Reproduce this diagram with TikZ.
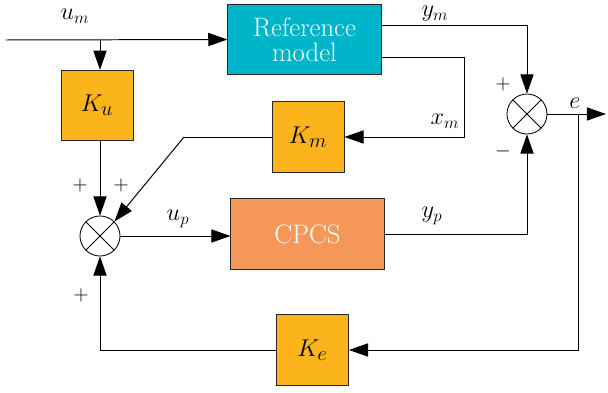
\documentclass[tikz,border=0pt]{standalone}
\usepackage{amsmath}
\usepackage{tikz}
\usetikzlibrary{arrows.meta, positioning}

\definecolor{refcyan}{RGB}{0,181,201}
\definecolor{gainorange}{RGB}{251,180,28}
\definecolor{plantorange}{RGB}{245,151,88}

\tikzset{
    gain/.style={draw=black!85, line width=0.6pt, fill=gainorange, minimum width=1.8cm, minimum height=1.76cm, inner sep=0pt, font=\fontsize{19}{21}\selectfont},
    bigbox/.style={gain, minimum width=3.83cm, text=white, align=center},
    summer/.style={draw, circle, line width=0.6pt, minimum size=1cm, inner sep=0pt,
        path picture={\draw (path picture bounding box.north west) -- (path picture bounding box.south east)
                            (path picture bounding box.north east) -- (path picture bounding box.south west);}},
    sig/.style={line width=0.7pt, -{Triangle[length=4.8mm, width=3.3mm]}},
    wire/.style={line width=0.7pt},
    lbl/.style={inner sep=0pt, font=\fontsize{18}{20}\selectfont}
}

\begin{document}
\begin{tikzpicture}[x=0.025cm, y=-0.025cm]
\useasboundingbox (0,0) rectangle (608,393);

\node[bigbox, fill=refcyan] (ref) at (304.5,39.5) {Reference\\[-3pt]model};
\node[bigbox, fill=plantorange] (cpcs) at (307.5,234) {CPCS};
\node[gain] (Ku) at (97,105.5) {$K_u$};
\node[gain] (Km) at (308,137) {$K_m$};
\node[gain] (Ke) at (312.5,350) {$K_e$};
\node[summer] (s1) at (100,236) {};
\node[summer] (s2) at (527,114) {};

\coordinate (in) at (6,40);
\coordinate (tap) at (100,40);
\coordinate (xmc) at (464,137);
\coordinate (kmb) at (184,137);
\coordinate (etap) at (578,114);
\coordinate (eout) at (606,114);
\coordinate (ketap) at (578,350);

\draw[sig] (in) -- (ref.west);
\draw[sig] (tap) -- (tap |- Ku.north);
\draw[sig] ([yshift=0.36cm]ref.east) -| (s2.north);
\draw[sig] ([yshift=-0.44cm]ref.east) -| (xmc) -- (Km.east);
\draw[wire] (Km.west) -- (kmb);
\draw[sig] (kmb) -- (s1.north east);
\draw[sig] (Ku.south -| s1) -- (s1.north);
\draw[sig] (s1.east) -- (s1.east -| cpcs.west);
\draw[sig] (cpcs.east) -| (s2.south);
\draw[sig] (s2.east) -- (eout);
\draw[sig] (etap) -- (ketap) -- (Ke.east);
\draw[sig] (Ke.west) -| (s1.south);

\foreach \x/\y/\t in {75/16/u_m, 435/14/y_m, 445/121/x_m, 178/219/u_p, 432/216/y_p, 575/103/e} {
    \node[lbl] at (\x,\y) {$\t$};
}
\foreach \x/\y/\t in {80/185/+, 121/185/+, 81/295/+, 503/84/+, 503/151/-} {
    \node[font=\fontsize{14}{16}\selectfont] at (\x,\y) {$\t$};
}
\end{tikzpicture}
\end{document}
